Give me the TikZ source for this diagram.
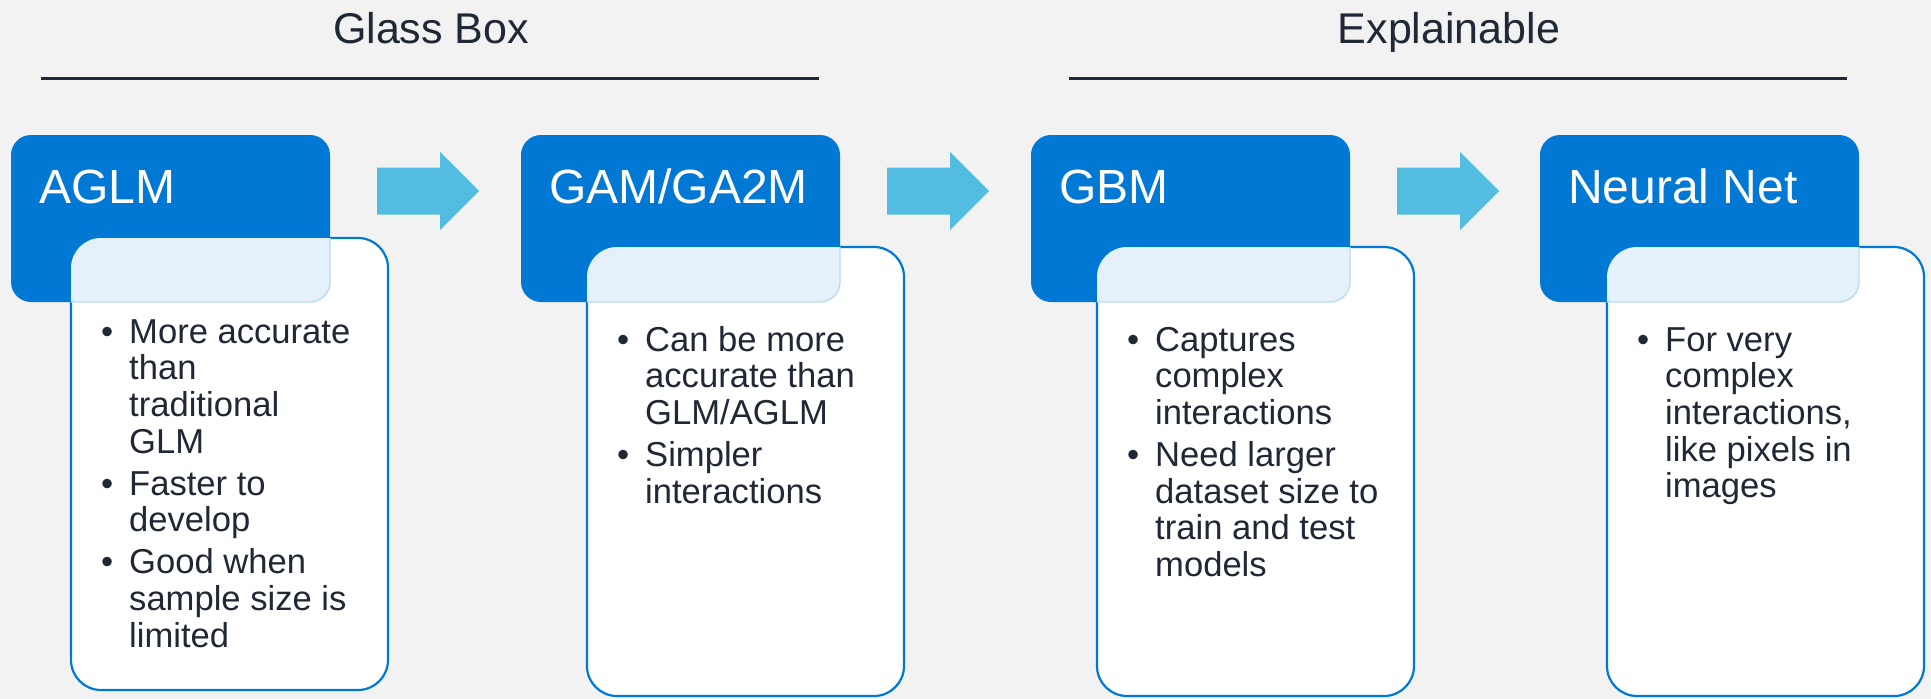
\documentclass[tikz,border=0pt]{standalone}
\usepackage{fontspec}
\setmainfont{Liberation Sans}
\usetikzlibrary{calc}

\definecolor{bgcol}{RGB}{242,242,242}
\definecolor{hdrblue}{RGB}{0,120,212}
\definecolor{overlapcol}{RGB}{228,241,250}
\definecolor{arrowcol}{RGB}{82,189,224}
\definecolor{inkcol}{RGB}{33,40,53}
\definecolor{ghostcol}{RGB}{186,218,244}

% one bullet paragraph with a hanging indent (lines broken with \newline)
\newcommand\bitem[1]{\par\hangindent=28pt\hangafter=1\noindent\makebox[28pt][l]{\textbullet}#1\par}

\tikzset{
  hdrbox/.style={rectangle, rounded corners=20pt, fill=hdrblue, inner sep=0pt, outer sep=0pt,
    minimum width=319pt, minimum height=167pt, anchor=north west},
  card/.style={rectangle, rounded corners=30pt, fill=white, draw=hdrblue,
    line width=2.2pt, inner sep=0pt, outer sep=0pt,
    minimum width=317pt, anchor=north west},
  hdrtext/.style={anchor=base west, inner sep=0pt, text=white, font=\fontsize{48}{52}\selectfont},
  bodytext/.style={anchor=base west, inner sep=0pt, text=inkcol, font=\fontsize{34.6}{36.7}\selectfont},
  grouptitle/.style={anchor=base, inner sep=0pt, text=inkcol, font=\fontsize{43}{50}\selectfont},
  rule/.style={draw=inkcol, line width=3pt},
  ghost/.style={draw=ghostcol, line width=1.4pt, rounded corners=20pt},
  blockarrow/.style={fill=arrowcol}
}

\newcommand\bodylist[1]{\parbox[t]{300pt}{\raggedright\setlength\parskip{5.3pt}#1}}

\begin{document}
\begin{tikzpicture}[x=1pt, y=-1pt]
  \fill[bgcol] (0,0) rectangle (1931,699);
  \useasboundingbox (0,0) rectangle (1931,699);

  % group headings with their rules
  \node[grouptitle] (gGlass) at (431,43) {Glass Box};
  \coordinate (rGlassL) at (41,78);
  \coordinate (rGlassR) at (819,78);
  \draw[rule] (rGlassL) -- (rGlassR);

  \node[grouptitle] (gExpl) at (1449,43) {Explainable};
  \coordinate (rExplL) at (1069,78);
  \coordinate (rExplR) at (1847,78);
  \draw[rule] (rExplL) -- (rExplR);

  % blue header boxes
  \node[hdrbox] (hdrA) at (11,135) {};
  \node[hdrbox] (hdrB) at (521,135) {};
  \node[hdrbox] (hdrC) at (1031,135) {};
  \node[hdrbox] (hdrD) at (1540,135) {};

  \node[hdrtext] (ttlA) at (39,203) {AGLM};
  \node[hdrtext] (ttlB) at (549,203) {GAM/GA2M};
  \node[hdrtext] (ttlC) at (1059,203) {GBM};
  \node[hdrtext] (ttlD) at (1568,203) {Neural Net};

  % white cards over the headers
  \node[card, minimum height=452pt] (cardA) at (71,238) {};
  \node[card, minimum height=449pt] (cardB) at (587,247) {};
  \node[card, minimum height=449pt] (cardC) at (1097,247) {};
  \node[card, minimum height=449pt] (cardD) at (1607,247) {};

  % pale tint where a card covers its header, with the header outline showing through
  \foreach \h/\c in {hdrA/cardA, hdrB/cardB, hdrC/cardC, hdrD/cardD}{
    \begin{scope}
      \clip[rounded corners=30pt] (\c.north west) rectangle (\c.south east);
      \fill[overlapcol, rounded corners=20pt] (\h.north west) rectangle (\h.south east);
    \end{scope}
    \draw[ghost] (\h.north east |- \c.north) -- (\h.south east) -- (\h.south west -| \c.west);
  }

  % bullet texts
  \node[bodytext] (txtA) at (101,343) {\bodylist{%
    \bitem{More accurate\newline than\newline traditional\newline GLM}
    \bitem{Faster to\newline develop}
    \bitem{Good when\newline sample size is\newline limited}}};
  \node[bodytext] (txtB) at (617,351) {\bodylist{%
    \bitem{Can be more\newline accurate than\newline GLM/AGLM}
    \bitem{Simpler\newline interactions}}};
  \node[bodytext] (txtC) at (1127,351) {\bodylist{%
    \bitem{Captures\newline complex\newline interactions}
    \bitem{Need larger\newline dataset size to\newline train and test\newline models}}};
  \node[bodytext] (txtD) at (1637,351) {\bodylist{%
    \bitem{For very\newline complex\newline interactions,\newline like pixels in\newline images}}};

  % block arrows between the stages
  \coordinate (arA) at (377,191);
  \coordinate (arB) at (887,191);
  \coordinate (arC) at (1397,191);
  \foreach \a in {arA, arB, arC}{
    \fill[blockarrow] (\a) ++(0,-23.5) -- ++(63,0) -- ++(0,-15.5) -- ++(39,39)
      -- ++(-39,39) -- ++(0,-15.5) -- ++(-63,0) -- cycle;
  }
\end{tikzpicture}
\end{document}
